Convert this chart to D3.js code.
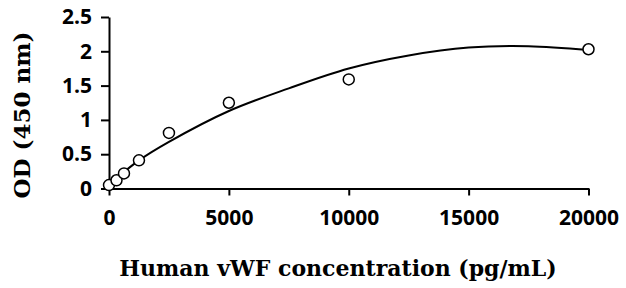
<!DOCTYPE html>
<html>
<head>
<meta charset="utf-8">
<script src="https://cdn.jsdelivr.net/npm/d3@7"></script>
<style>
  body { margin: 0; background: #fff; }
  svg { display: block; }
  .tick text { font-family: "Open Sans", Lato, sans-serif; font-weight: 700; font-size: 21px; fill: #000; }
  .title { font-family: "DejaVu Serif", serif; font-weight: bold; fill: #000; }
</style>
</head>
<body>
<div id="chart"></div>
<script>
var width = 626, height = 288;

// measured standards (pg/mL) and OD readings
var concentrations = [0, 312.5, 625, 1250, 2500, 5000, 10000, 20000];
var odValues = [0.05, 0.12, 0.22, 0.41, 0.81, 1.25, 1.59, 2.03];

// fitted curve
var curveX = [0, 1250, 2500, 5000, 7500, 10000, 12500, 15000, 17500, 20000];
var curveY = [0.06, 0.41, 0.68, 1.13, 1.46, 1.75, 1.94, 2.055, 2.075, 2.02];

var xTicks = [0, 5000, 10000, 15000, 20000];
var yTicks = [0, 0.5, 1, 1.5, 2, 2.5];

var x = d3.scaleLinear().domain([0, 20000]).range([109, 588.5]);
var y = d3.scaleLinear().domain([0, 2.5]).range([188.5, 17]);

var svg = d3.select("#chart")
  .append("svg")
  .attr("width", width)
  .attr("height", height);

svg.append("g")
  .attr("transform", "translate(0," + y(0) + ")")
  .call(d3.axisBottom(x).tickValues(xTicks).tickSize(7).tickPadding(15).tickSizeOuter(0).tickFormat(d3.format("d")));

svg.append("g")
  .attr("transform", "translate(" + x(0) + ",0)")
  .call(d3.axisLeft(y).tickValues(yTicks).tickSize(8).tickPadding(9).tickSizeOuter(0).tickFormat(function(d) { return d; }));

svg.selectAll(".domain, .tick line")
  .attr("stroke", "#000")
  .attr("stroke-width", 2);

var line = d3.line()
  .x(function(d, i) { return x(curveX[i]); })
  .y(function(d) { return y(d); })
  .curve(d3.curveCatmullRom.alpha(0.5));

svg.append("path")
  .datum(curveY)
  .attr("d", line)
  .attr("fill", "none")
  .attr("stroke", "#000")
  .attr("stroke-width", 2);

svg.append("g")
  .selectAll("circle")
  .data(odValues)
  .enter()
  .append("circle")
  .attr("cx", function(d, i) { return x(concentrations[i]); })
  .attr("cy", function(d) { return y(d); })
  .attr("r", 5.5)
  .attr("fill", "#fff")
  .attr("stroke", "#000")
  .attr("stroke-width", 1.5);

svg.append("text")
  .attr("class", "title")
  .attr("x", 338)
  .attr("y", 276)
  .attr("text-anchor", "middle")
  .style("font-size", "22px")
  .text("Human vWF concentration (pg/mL)");

svg.append("text")
  .attr("class", "title")
  .attr("transform", "translate(30,115) rotate(-90)")
  .attr("text-anchor", "middle")
  .style("font-size", "23px")
  .text("OD (450 nm)");
</script>
</body>
</html>
